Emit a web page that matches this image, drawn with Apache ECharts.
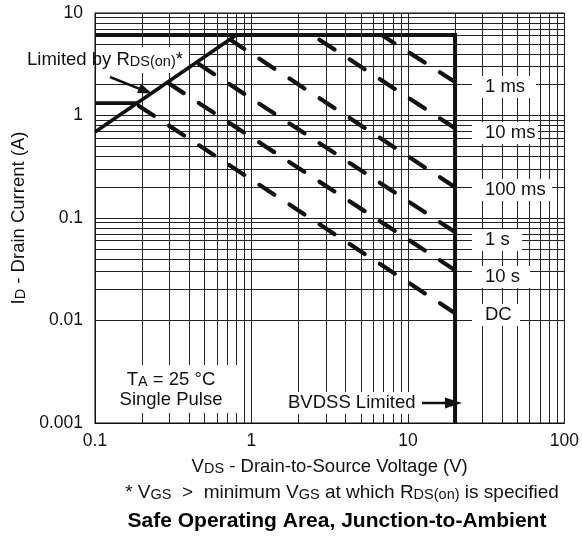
<!DOCTYPE html>
<html>
<head>
<meta charset="utf-8">
<script src="https://cdn.jsdelivr.net/npm/echarts@6/dist/echarts.min.js"></script>
<style>
  html, body { margin: 0; padding: 0; background: #fff; }
  #chart { width: 582px; height: 537px; }
</style>
</head>
<body>
<div id="chart"></div>
<script>
// axis values
const xMajor = [0.1, 1, 10, 100];
const yMajor = [0.001, 0.01, 0.1, 1, 10];
const xMinor = [0.2, 0.3, 0.4, 0.5, 0.6, 0.7, 0.8, 0.9,
  2, 3, 4, 5, 6, 7, 8, 9,
  20, 30, 40, 50, 60, 70, 80, 90];
const yMinor = [0.002, 0.003, 0.004, 0.005, 0.006, 0.007, 0.008, 0.009,
  0.02, 0.03, 0.04, 0.05, 0.06, 0.07, 0.08, 0.09,
  0.2, 0.3, 0.4, 0.5, 0.6, 0.7, 0.8, 0.9,
  2, 3, 4, 5, 6, 7, 8, 9];

// limit lines [VDS, ID]
const limitBox = [[0.1, 6.1], [20, 6.1], [20, 0.001]];
const rdsLimit = [[0.1, 0.69], [0.8, 6.1]];
const leftStub = [[0.1, 1.32], [0.185, 1.32]];

// pulse lines, drawn from the BVDSS end back to the limit
const pulseNames = ['1 ms', '10 ms', '100 ms', '1 s', '10 s', 'DC'];
const pulse1ms = [[20, 2.12], [6.8, 6.1]];
const pulse10ms = [[20, 0.75], [2.45, 6.1]];
const pulse100ms = [[20, 0.2], [0.73, 5.5]];
const pulse1s = [[20, 0.073], [0.45, 3.25]];
const pulse10s = [[20, 0.031], [0.29, 2.1]];
const pulseDC = [[20, 0.0118], [0.185, 1.28]];
const pulseData = [pulse1ms, pulse10ms, pulse100ms, pulse1s, pulse10s, pulseDC];
const pulseLabelY = [87, 133, 190, 240, 277, 315];
const pulseBoxW = [64, 66, 80, 50, 58, 48];

const FONT = 'Liberation Sans, Arial, Helvetica, sans-serif';
const FS = 18.5;   // annotation text
const TFS = 17.5;  // tick labels
const subStyle = { fontSize: 14.5, lineHeight: 8, verticalAlign: 'bottom', fontFamily: FONT, fill: '#111', color: '#111' };

const chart = echarts.init(document.getElementById('chart'), null, { renderer: 'canvas' });

function fmt(v) {
  return String(parseFloat(Number(v).toPrecision(6)));
}

let series = [];
// minor grid lines
series.push({
  type: 'line', data: [], silent: true, z: 1,
  markLine: {
    silent: true, symbol: ['none', 'none'], animation: false, z: 1,
    label: { show: false },
    lineStyle: { type: 'solid', color: '#222', width: 1 },
    data: xMinor.map(v => ({ xAxis: v })).concat(yMinor.map(v => ({ yAxis: v })))
  }
});
pulseData.forEach((d, i) => {
  series.push({
    name: pulseNames[i], type: 'line', data: d, symbol: 'none', z: 5,
    lineStyle: { color: '#111', width: 4.2, type: [18, 18], cap: 'round' }
  });
});
series.push({
  name: 'limit', type: 'line', data: limitBox, symbol: 'none', z: 6,
  lineStyle: { color: '#111', width: 4, join: 'miter', cap: 'butt' }
});
series.push({
  name: 'rds', type: 'line', data: rdsLimit, symbol: 'none', z: 6,
  lineStyle: { color: '#111', width: 3.6 }
});
series.push({
  name: 'stub', type: 'line', data: leftStub, symbol: 'none', z: 6,
  lineStyle: { color: '#111', width: 3.6 }
});

// label boxes
let graphics = [];
function whiteRect(x, y, w, h) {
  graphics.push({ type: 'rect', z: 3, silent: true, shape: { x: x, y: y, width: w, height: h }, style: { fill: '#fff' } });
}
function text(x, y, str, extra) {
  let style = {
    text: str, x: x, y: y, fill: '#111', align: 'left', verticalAlign: 'middle',
    font: FS + 'px ' + FONT, rich: { sub: subStyle }
  };
  Object.assign(style, extra || {});
  graphics.push({ type: 'text', z: 10, silent: true, style: style });
}
pulseNames.forEach((n, i) => {
  whiteRect(472, pulseLabelY[i] - 11, pulseBoxW[i], 22);
  text(485, pulseLabelY[i], n);
});
whiteRect(96, 47, 93, 26);
text(27, 60, 'Limited by R{sub|DS(on)}*');
whiteRect(105, 365, 133, 48);
text(171, 380, 'T{sub|A} = 25 °C', { align: 'center' });
text(171, 400, 'Single Pulse', { align: 'center' });
whiteRect(267, 392, 195, 22);
text(288, 403, 'BVDSS Limited');
// arrows
graphics.push({ type: 'line', z: 10, silent: true, shape: { x1: 110, y1: 77, x2: 142, y2: 89.8 }, style: { stroke: '#111', lineWidth: 2.5 } });
graphics.push({ type: 'polygon', z: 10, silent: true, shape: { points: [[152, 93.5], [137.1, 92.9], [140.9, 83.7]] }, style: { fill: '#111' } });
graphics.push({ type: 'line', z: 10, silent: true, shape: { x1: 422, y1: 403, x2: 448, y2: 403 }, style: { stroke: '#111', lineWidth: 2.5 } });
graphics.push({ type: 'polygon', z: 10, silent: true, shape: { points: [[462, 403], [445, 397.5], [445, 408.5]] }, style: { fill: '#111' } });
// bottom texts
text(342, 493, '* V{sub|GS}  >  minimum V{sub|GS} at which R{sub|DS(on)} is specified', { align: 'center', font: '19px ' + FONT });
text(337, 521, 'Safe Operating Area, Junction-to-Ambient', { align: 'center', font: 'bold 21px ' + FONT, fill: '#000' });

const nameRich = { sub: { fontSize: 14.5, lineHeight: 8, verticalAlign: 'bottom', fontFamily: FONT, color: '#111' } };

const option = {
  animation: false,
  backgroundColor: '#fff',
  grid: { left: 95, right: 7, top: 13, bottom: 114, show: true, borderColor: '#111', borderWidth: 1, backgroundColor: 'transparent' },
  xAxis: {
    type: 'log', logBase: 10, min: xMajor[0], max: xMajor[xMajor.length - 1],
    axisLine: { lineStyle: { color: '#111', width: 1 } },
    axisTick: { show: false },
    splitLine: { show: true, lineStyle: { color: '#222', width: 1 } },
    axisLabel: { color: '#111', fontSize: TFS, fontFamily: FONT, margin: 9, formatter: fmt },
    name: 'V{sub|DS} - Drain-to-Source Voltage (V)',
    nameLocation: 'middle', nameGap: 34,
    nameTextStyle: { color: '#111', fontSize: FS, fontFamily: FONT, rich: nameRich }
  },
  yAxis: {
    type: 'log', logBase: 10, min: yMajor[0], max: yMajor[yMajor.length - 1],
    axisLine: { lineStyle: { color: '#111', width: 1 } },
    axisTick: { show: false },
    splitLine: { show: true, lineStyle: { color: '#222', width: 1 } },
    axisLabel: { color: '#111', fontSize: TFS, fontFamily: FONT, margin: 12, formatter: fmt },
    name: 'I{sub|D} - Drain Current (A)',
    nameLocation: 'middle', nameGap: 64, nameRotate: 90,
    nameTextStyle: { color: '#111', fontSize: FS, fontFamily: FONT, rich: nameRich }
  },
  series: series,
  graphic: graphics
};
chart.setOption(option);
</script>
</body>
</html>
